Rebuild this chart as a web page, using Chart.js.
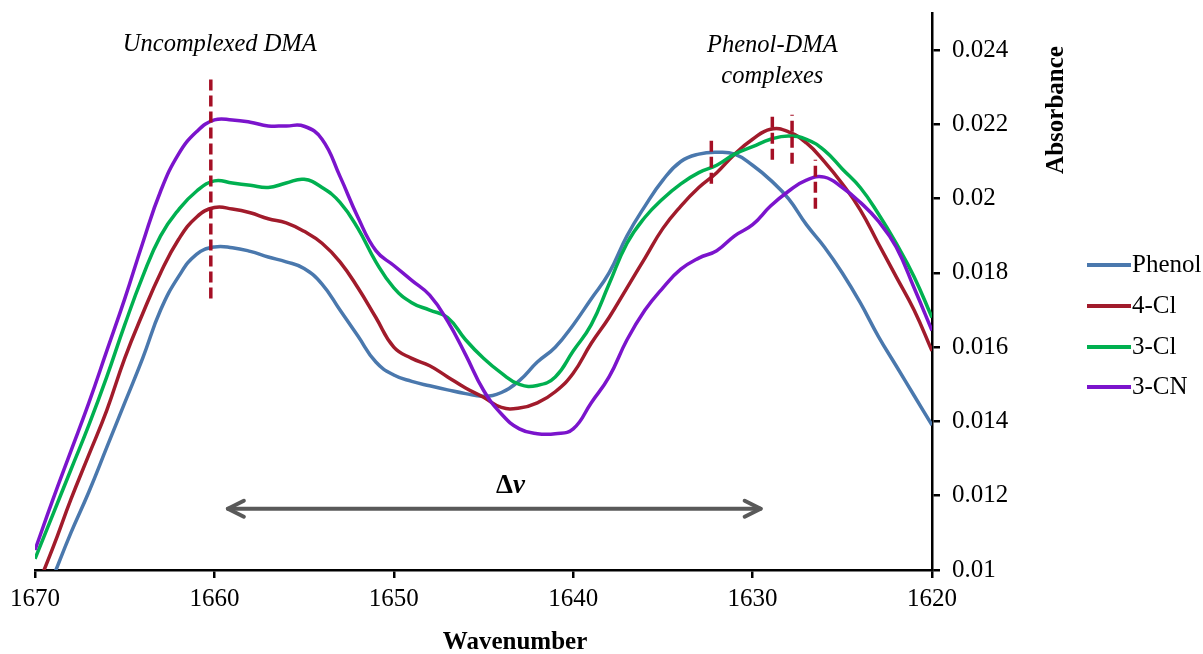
<!DOCTYPE html>
<html>
<head>
<meta charset="utf-8">
<script src="https://cdn.jsdelivr.net/npm/chart.js@4.4.1/dist/chart.umd.min.js"></script>
<style>
  html, body { margin: 0; padding: 0; background: #fff; }
  #contenedor { width: 1203px; height: 654px; }
</style>
</head>
<body>
<div id="contenedor"><canvas id="grafico" width="1203" height="654"></canvas></div>
<script>
// numeros de onda (eje x, invertido)
const numerosOnda = [1670, 1669, 1668, 1667, 1666, 1665, 1664, 1663, 1662, 1661,
  1660, 1659, 1658, 1657, 1656, 1655, 1654, 1653, 1652, 1651,
  1650, 1649, 1648, 1647, 1646, 1645, 1644, 1643, 1642, 1641,
  1640, 1639, 1638, 1637, 1636, 1635, 1634, 1633, 1632, 1631,
  1630, 1629, 1628, 1627, 1626, 1625, 1624, 1623, 1622, 1621, 1620]

const phenol = [0.0086, 0.0098, 0.0110, 0.0121, 0.0133, 0.0145, 0.0157, 0.0170, 0.0179, 0.0185,
  0.01870, 0.01868, 0.01858, 0.01843, 0.01830, 0.01812, 0.0177, 0.0170, 0.0163, 0.0156,
  0.01525, 0.01508, 0.01496, 0.01485, 0.01475, 0.01468, 0.01478, 0.0151, 0.0156, 0.0160,
  0.0166, 0.0173, 0.0180, 0.0190, 0.0198, 0.0205, 0.0210, 0.0212, 0.02125, 0.0212,
  0.0209, 0.0205, 0.0200, 0.0193, 0.0187, 0.0180, 0.0172, 0.0163, 0.0155, 0.0147, 0.0139]

const cloro4 = [0.0094, 0.0106, 0.0119, 0.0131, 0.0143, 0.0157, 0.0169, 0.0180, 0.0189, 0.01950,
  0.01976, 0.01972, 0.01962, 0.01946, 0.01935, 0.01912, 0.0188, 0.0183, 0.0176, 0.0168,
  0.0160, 0.0157, 0.0155, 0.0152, 0.0149, 0.01465, 0.01438, 0.01436, 0.0145, 0.0148,
  0.0153, 0.0161, 0.0168, 0.0176, 0.0184, 0.0192, 0.0198, 0.0203, 0.0207, 0.0212,
  0.0216, 0.02187, 0.02180, 0.0215, 0.0210, 0.0204, 0.0197, 0.0188, 0.0179, 0.0170, 0.0159]

const cloro3 = [0.0103, 0.0115, 0.0127, 0.0139, 0.0152, 0.0166, 0.0179, 0.0190, 0.0197, 0.0202,
  0.02048, 0.02042, 0.02036, 0.0203, 0.02042, 0.02052, 0.0203, 0.0199, 0.0192, 0.0183,
  0.0176, 0.0172, 0.0170, 0.0168, 0.0162, 0.0157, 0.0153, 0.0150, 0.01497, 0.0152,
  0.0159, 0.0166, 0.0177, 0.0188, 0.0195, 0.0200, 0.0204, 0.0207, 0.0209, 0.0212,
  0.0214, 0.0216, 0.02169, 0.0216, 0.0213, 0.0208, 0.0203, 0.0196, 0.0188, 0.0179, 0.0168]

const ciano3 = [0.01054, 0.0119, 0.0132, 0.0145, 0.0159, 0.0173, 0.0188, 0.0202, 0.0212, 0.0218,
  0.02212, 0.02212, 0.02206, 0.02196, 0.02196, 0.02195, 0.0216, 0.0206, 0.0195, 0.0186,
  0.0182, 0.0178, 0.0174, 0.0167, 0.0158, 0.01484, 0.0142, 0.0138, 0.01367, 0.01367,
  0.0138, 0.0145, 0.0152, 0.0162, 0.0170, 0.0176, 0.0181, 0.0184, 0.0186, 0.0190,
  0.0193, 0.0198, 0.0202, 0.0205, 0.02058, 0.0203, 0.0199, 0.0194, 0.0187, 0.0176, 0.01645]

const nombresSeries = ['Phenol', '4-Cl', '3-Cl', '3-CN']
const coloresSeries = ['#4A78AD', '#A11B2B', '#00B050', '#7B14CC']

// marcas discontinuas de los maximos
const marcaX = [1660.2, 1632.3, 1628.9, 1627.8, 1626.5]
const marcaArriba = [0.02331, 0.02169, 0.02234, 0.02226, 0.02105]
const marcaAbajo = [0.01731, 0.02040, 0.02105, 0.02094, 0.01973]

// flecha delta nu
const flechaDesde = 1659.25
const flechaHasta = 1629.55
const flechaY = 0.01165

// textos sobre el grafico: [texto, x, y]
const textosCursiva = [
  ['Uncomplexed DMA', 1659.7, 0.02414],
  ['Phenol-DMA', 1628.9, 0.02411],
  ['complexes', 1628.9, 0.02328],
]
const textoDelta = ['\u0394', 'v', 1643.5, 0.01207]

const ticksY = [0.01, 0.012, 0.014, 0.016, 0.018, 0.02, 0.022, 0.024]

const fuente = '"Liberation Serif", "Times New Roman", serif'

const datasets = []
marcaX.forEach((mx, i) => {
  datasets.push({
    label: 'marca' + i,
    data: [{ x: mx, y: marcaAbajo[i] }, { x: mx, y: marcaArriba[i] }],
    borderColor: '#A50F25',
    borderWidth: 3.5,
    borderDash: [11, 5],
    pointRadius: 0,
    tension: 0,
    order: 0,
  })
})
const todasSeries = [phenol, cloro4, cloro3, ciano3]
todasSeries.forEach((serie, i) => {
  datasets.push({
    label: nombresSeries[i],
    data: numerosOnda.map((n, j) => ({ x: n, y: serie[j] })),
    borderColor: coloresSeries[i],
    borderWidth: 3.5,
    pointRadius: 0,
    tension: 0.45,
    order: 4 - i,
  })
})

const anotaciones = {
  id: 'anotaciones',
  afterDraw(chart) {
    const { ctx, scales } = chart
    const x = scales.x, y = scales.y
    ctx.save()

    // flecha doble
    const x1 = x.getPixelForValue(flechaDesde)
    const x2 = x.getPixelForValue(flechaHasta)
    const yy = y.getPixelForValue(flechaY)
    ctx.strokeStyle = '#595959'
    ctx.lineWidth = 4
    ctx.lineCap = 'round'
    ctx.lineJoin = 'round'
    ctx.beginPath(); ctx.moveTo(x1, yy); ctx.lineTo(x2, yy); ctx.stroke()
    ctx.beginPath(); ctx.moveTo(x1 + 16, yy - 8); ctx.lineTo(x1, yy); ctx.lineTo(x1 + 16, yy + 8); ctx.stroke()
    ctx.beginPath(); ctx.moveTo(x2 - 16, yy - 8); ctx.lineTo(x2, yy); ctx.lineTo(x2 - 16, yy + 8); ctx.stroke()

    // textos en cursiva
    ctx.fillStyle = '#000'
    ctx.textAlign = 'center'
    ctx.textBaseline = 'middle'
    ctx.font = 'italic 24.5px ' + fuente
    textosCursiva.forEach(t => {
      ctx.fillText(t[0], x.getPixelForValue(t[1]), y.getPixelForValue(t[2]))
    })

    // delta nu
    const dx = x.getPixelForValue(textoDelta[2])
    const dy = y.getPixelForValue(textoDelta[3])
    ctx.textBaseline = 'alphabetic'
    ctx.textAlign = 'left'
    ctx.font = 'bold 27px ' + fuente
    const anchoDelta = ctx.measureText(textoDelta[0]).width
    ctx.font = 'bold italic 27px ' + fuente
    const anchoNu = ctx.measureText(textoDelta[1]).width
    const inicio = dx - (anchoDelta + anchoNu) / 2
    ctx.font = 'bold 27px ' + fuente
    ctx.fillText(textoDelta[0], inicio, dy)
    ctx.font = 'bold italic 27px ' + fuente
    ctx.fillText(textoDelta[1], inicio + anchoDelta, dy)

    // titulos de ejes
    ctx.textAlign = 'center'
    ctx.textBaseline = 'middle'
    ctx.font = 'bold 25px ' + fuente
    ctx.fillText('Wavenumber', 515, 643)
    ctx.save()
    ctx.translate(1057, 110)
    ctx.rotate(-Math.PI / 2)
    ctx.fillText('Absorbance', 0, 0)
    ctx.restore()

    // leyenda
    const filas = [265, 306, 347, 387]
    ctx.textAlign = 'left'
    ctx.font = '25px ' + fuente
    ctx.lineCap = 'butt'
    nombresSeries.forEach((nombre, i) => {
      ctx.strokeStyle = coloresSeries[i]
      ctx.lineWidth = 4
      ctx.beginPath(); ctx.moveTo(1087, filas[i]); ctx.lineTo(1131, filas[i]); ctx.stroke()
      ctx.fillText(nombre, 1132, filas[i])
    })
    ctx.restore()
  }
}

new Chart(document.getElementById('grafico').getContext('2d'), {
  type: 'line',
  data: { datasets },
  options: {
    responsive: false,
    animation: false,
    events: [],
    layout: { padding: { left: 35, top: 13, right: 0, bottom: 0 } },
    plugins: { legend: { display: false }, tooltip: { enabled: false } },
    scales: {
      x: {
        type: 'linear',
        reverse: true,
        min: 1620,
        max: 1670,
        afterFit: s => { s.height = 84 },
        border: { color: '#000', width: 2.5 },
        grid: { drawOnChartArea: false, drawTicks: true, tickLength: 8, color: '#000', lineWidth: 2.5 },
        ticks: { stepSize: 10, color: '#000', font: { family: fuente, size: 25 }, padding: 6, maxRotation: 0, callback: v => String(v) },
      },
      y: {
        position: 'right',
        min: 0.01,
        max: 0.025,
        afterFit: s => { s.width = 271; s.paddingTop = 0; s.paddingBottom = 0 },
        afterBuildTicks: s => { s.ticks = ticksY.map(v => ({ value: v })) },
        border: { color: '#000', width: 2.5 },
        grid: { drawOnChartArea: false, drawTicks: true, tickLength: 8, color: '#000', lineWidth: 2.5 },
        ticks: { color: '#000', font: { family: fuente, size: 25 }, padding: 12, callback: v => String(parseFloat(v.toFixed(3))) },
      },
    },
  },
  plugins: [anotaciones],
})
</script>
</body>
</html>
